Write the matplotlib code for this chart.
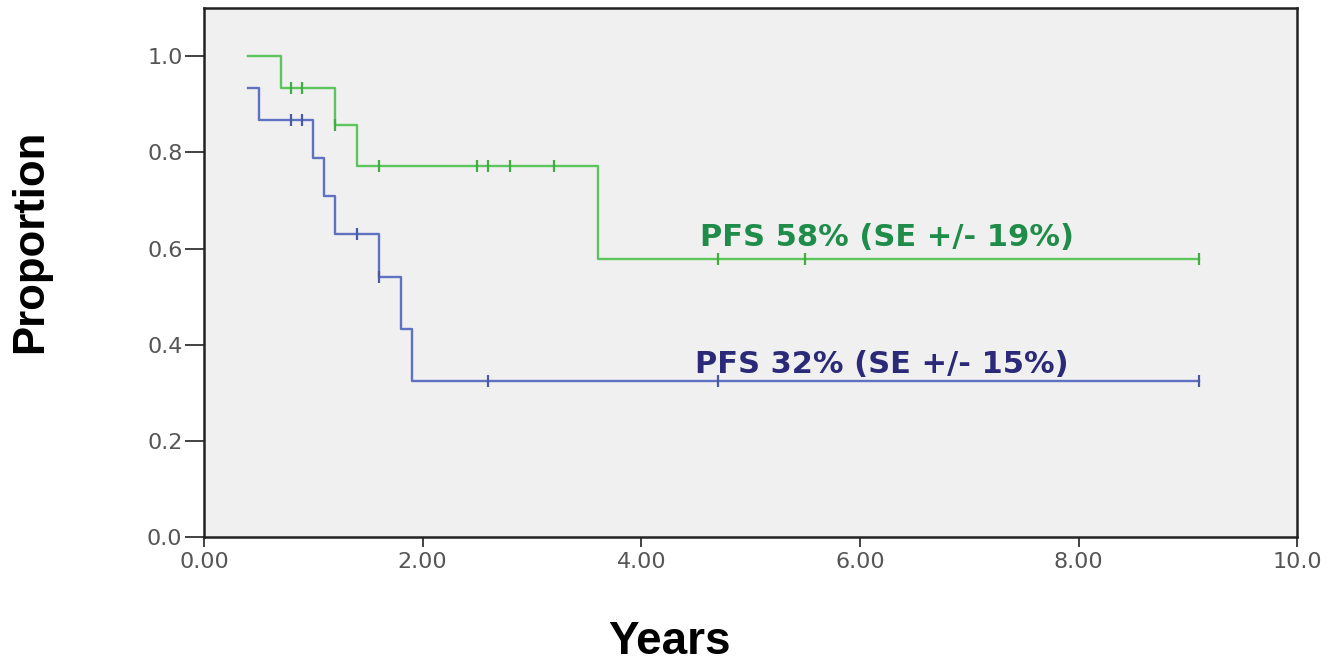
import numpy as np
import matplotlib
matplotlib.use('Agg')
import matplotlib.pyplot as plt

# Kaplan-Meier step data
green_times = [0.4, 0.7, 1.2, 1.4, 3.6, 9.1]
green_surv = [1.0, 0.933, 0.857, 0.771, 0.578, 0.578]
green_censor = [0.8, 0.9, 1.2, 1.6, 2.5, 2.6, 2.8, 3.2, 4.7, 5.5, 9.1]

blue_times = [0.4, 0.5, 1.0, 1.1, 1.2, 1.6, 1.8, 1.9, 9.1]
blue_surv = [0.933, 0.867, 0.788, 0.709, 0.630, 0.540, 0.433, 0.325, 0.325]
blue_censor = [0.8, 0.9, 1.4, 1.6, 2.6, 4.7, 9.1]

x_ticks = [0, 2, 4, 6, 8, 10]
x_tick_labels = ['0.00', '2.00', '4.00', '6.00', '8.00', '10.0']
y_ticks = [0.0, 0.2, 0.4, 0.6, 0.8, 1.0]

green_label = 'PFS 58% (SE +/- 19%)'
blue_label = 'PFS 32% (SE +/- 15%)'


def step_value(times, surv, x):
    # value of the step curve at x (after any drop at x)
    i = np.searchsorted(times, x, side='right') - 1
    return surv[max(i, 0)]


fig = plt.figure(figsize=(13.37, 6.62), dpi=100)
ax = fig.add_axes([0.1526, 0.1888, 0.8176, 0.799])
ax.set_facecolor('#f0f0f0')

green_line = '#5cc55c'
blue_line = '#5f72c2'

ax.step(green_times, green_surv, where='post', color=green_line, lw=1.7)
ax.step(blue_times, blue_surv, where='post', color=blue_line, lw=1.7)

gy = [step_value(green_times, green_surv, x) for x in green_censor]
by = [step_value(blue_times, blue_surv, x) for x in blue_censor]
ax.plot(green_censor, gy, ls='none', marker='|', ms=9, mew=1.6, color='#3fae3f')
ax.plot(blue_censor, by, ls='none', marker='|', ms=9, mew=1.6, color='#4a5aa8')

ax.text(6.25, 0.622, green_label, color='#1f8c4a', fontsize=22,
        fontweight='bold', family='DejaVu Sans', va='center', ha='center')
ax.text(6.20, 0.358, blue_label, color='#2a2a78', fontsize=22,
        fontweight='bold', family='DejaVu Sans', va='center', ha='center')

ax.set_xlim(0, 10)
ax.set_ylim(0, 1.1)
ax.set_xticks(x_ticks)
ax.set_xticklabels(x_tick_labels)
ax.set_yticks(y_ticks)
ax.set_yticklabels(['%.1f' % v for v in y_ticks])
ax.tick_params(direction='out', width=1.3, colors='#333333',
               labelcolor='#555555', labelsize=16)
ax.tick_params(axis='y', length=14, pad=1.5)
ax.tick_params(axis='x', length=7.5, pad=3)
for s in ax.spines.values():
    s.set_linewidth(1.8)
    s.set_color('#222222')

fig.text(0.501, 0.030, 'Years', fontsize=33, fontweight='bold',
         family='Liberation Sans', ha='center', va='center')
fig.text(0.023, 0.636, 'Proportion', fontsize=31.5, fontweight='bold',
         family='Liberation Sans', ha='center', va='center', rotation=90)

fig.savefig('out.png', dpi=100)
